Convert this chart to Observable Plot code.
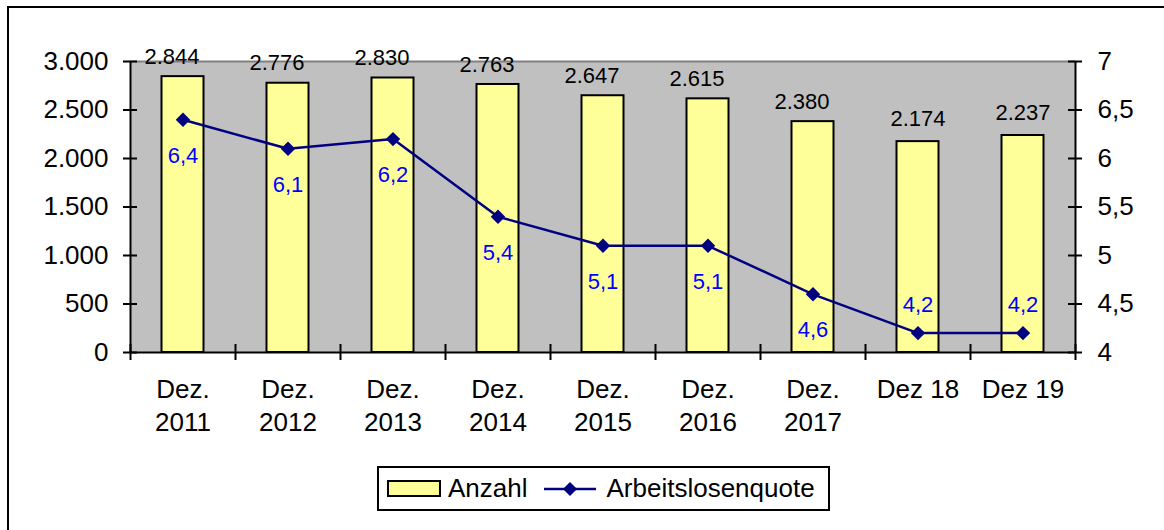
<!DOCTYPE html>
<html>
<head>
<meta charset="utf-8">
<script src="https://cdn.jsdelivr.net/npm/d3@7"></script>
<script src="https://cdn.jsdelivr.net/npm/@observablehq/plot@0.6"></script>
<style>
  html, body { margin: 0; padding: 0; background: #fff; }
  #wrap { position: relative; width: 1164px; height: 530px; overflow: hidden; font-family: "Liberation Sans", Arial, sans-serif; }
  #border { position: absolute; left: 7px; top: 6px; right: -20px; bottom: -20px; border: 2px solid #000; }
  #chart { position: absolute; left: 0; top: 0; }
  #legend { position: absolute; left: 377px; top: 466px; width: 449px; height: 41px; border: 2px solid #000; background: #fff;
            display: flex; align-items: center; font-size: 26px; color: #000; }
  .sw { width: 50px; height: 13px; background: #ffff99; border: 2px solid #000; margin-left: 8px; margin-right: 7px; }
  .ln { margin-left: 0; margin-right: 7px; }
</style>
</head>
<body>
<div id="wrap">
  <div id="border"></div>
  <div id="chart"></div>
  <div id="legend">
    <div class="sw"></div><span>Anzahl</span>
    <svg class="ln" width="58" height="20" style="margin-left:14px"><line x1="2" y1="10" x2="54" y2="10" stroke="#000080" stroke-width="2.5"/><path d="M28,3 L35,10 L28,17 L21,10 Z" fill="#000080"/></svg>
    <span>Arbeitslosenquote</span>
  </div>
</div>
<script>
// Data
const categories = ["Dez.\n2011", "Dez.\n2012", "Dez.\n2013", "Dez.\n2014", "Dez.\n2015", "Dez.\n2016", "Dez.\n2017", "Dez 18", "Dez 19"];
const anzahl = [2844, 2776, 2830, 2763, 2647, 2615, 2380, 2174, 2237];
const quote = [6.4, 6.1, 6.2, 5.4, 5.1, 5.1, 4.6, 4.2, 4.2];
const leftTicks = [0, 500, 1000, 1500, 2000, 2500, 3000];
const rightTicks = [4, 4.5, 5, 5.5, 6, 6.5, 7];

const de = d3.formatLocale({decimal: ",", thousands: ".", grouping: [3], currency: ["", " €"]});
const fmtInt = de.format(",d");
const fmtDec = v => String(v).replace(".", ",");

// map the rate (4..7) onto the count scale (0..3000)
const rateToY = r => (r - 4) * 1000;

const data = categories.map((c, i) => ({i, c, anzahl: anzahl[i], quote: quote[i], yq: rateToY(quote[i])}));
const cx = d => d.i + 0.5;
const bounds = d3.range(categories.length + 1);

const font = "Liberation Sans, Arial, sans-serif";

const chart = Plot.plot({
  width: 1164,
  height: 465,
  marginLeft: 130,
  marginRight: 89,
  marginTop: 61,
  marginBottom: 113,
  style: {fontFamily: font, background: "transparent", overflow: "visible", color: "#000"},
  x: {domain: [0, categories.length]},
  y: {domain: [0, 3000]},
  marks: [
    Plot.frame({fill: "#c0c0c0", stroke: null}),
    Plot.ruleY([3000], {stroke: "#808080", strokeWidth: 2}),
    Plot.rectY(data, {x1: d => d.i + 0.3, x2: d => d.i + 0.7, y1: 0, y2: "anzahl", fill: "#ffff99", stroke: "#000", strokeWidth: 2}),
    // axis lines
    Plot.ruleX([0, categories.length], {stroke: "#000", strokeWidth: 2}),
    Plot.ruleY([0], {stroke: "#000", strokeWidth: 2}),
    // crossing ticks
    Plot.ruleY(leftTicks, {y: d => d, x1: 0, x2: 0, insetLeft: -7, insetRight: -7, stroke: "#000", strokeWidth: 2}),
    Plot.ruleY(rightTicks, {y: d => rateToY(d), x1: categories.length, x2: categories.length, insetLeft: -7, insetRight: -7, stroke: "#000", strokeWidth: 2}),
    Plot.ruleX(bounds, {x: d => d, y1: 0, y2: 0, insetTop: -8, insetBottom: -8, stroke: "#000", strokeWidth: 2}),
    // axes labels
    Plot.axisY({anchor: "left", ticks: leftTicks, tickSize: 0, tickPadding: 22, tickFormat: fmtInt, fontSize: 26, label: null}),
    Plot.axisY({anchor: "right", ticks: rightTicks.map(rateToY), tickSize: 0, tickPadding: 22, tickFormat: v => fmtDec(4 + v / 1000), fontSize: 26, label: null}),
    Plot.axisX({ticks: categories.map((c, i) => i + 0.5), tickFormat: v => categories[Math.floor(v)], tickSize: 0, tickPadding: 22, fontSize: 26, lineHeight: 1.27, label: null}),
    // line series
    Plot.line(data, {x: cx, y: "yq", stroke: "#000080", strokeWidth: 2.5}),
    Plot.dot(data, {x: cx, y: "yq", symbol: "diamond2", r: 6.5, fill: "#000080", stroke: null}),
    // value labels
    Plot.text(data, {filter: d => d.i < 7, x: cx, y: "anzahl", text: d => fmtInt(d.anzahl), dy: -20, dx: -11, fontSize: 22, fill: "#000"}),
    Plot.text(data, {filter: d => d.i >= 7, x: cx, y: "anzahl", text: d => fmtInt(d.anzahl), dy: -23, fontSize: 22, fill: "#000"}),
    Plot.text(data, {filter: d => d.i < 7, x: cx, y: "yq", text: d => fmtDec(d.quote), dy: 36, fontSize: 22, fill: "#0000ff"}),
    Plot.text(data, {filter: d => d.i >= 7, x: cx, y: "yq", text: d => fmtDec(d.quote), dy: -28, fontSize: 22, fill: "#0000ff"})
  ]
});
document.getElementById("chart").appendChild(chart);
</script>
</body>
</html>
